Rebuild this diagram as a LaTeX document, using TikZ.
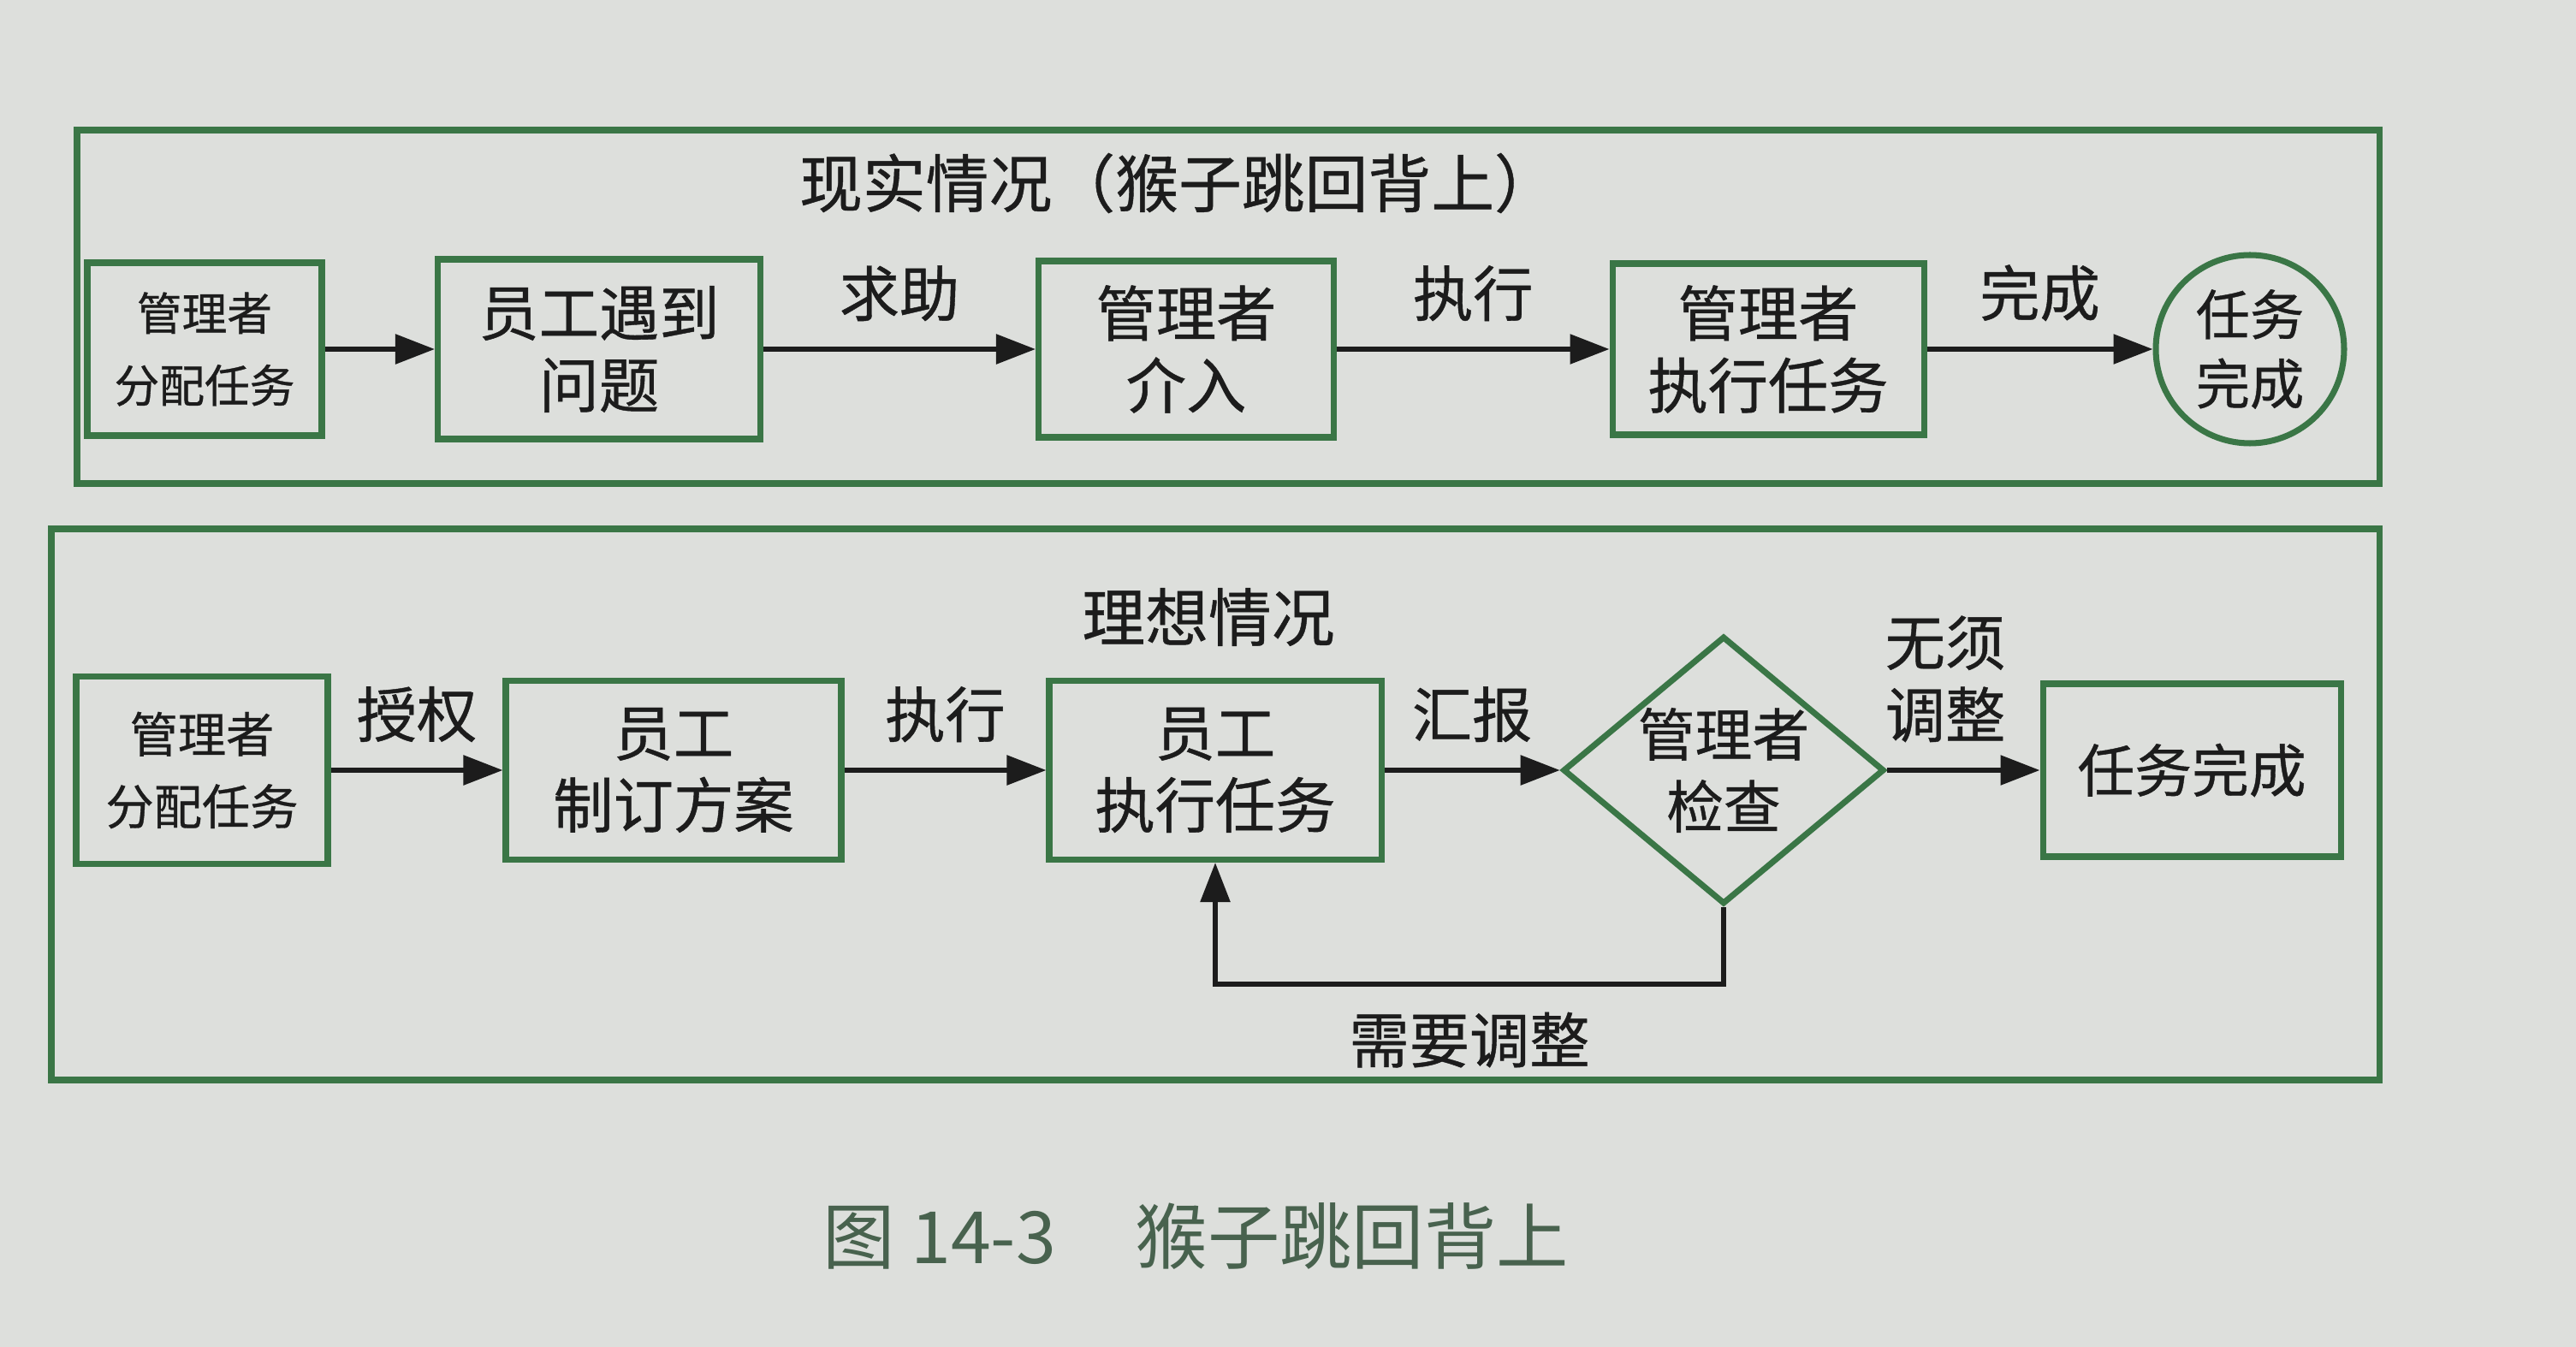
\documentclass[tikz,border=0pt]{standalone}
\usepackage{fontspec}
\setmainfont{Noto Sans CJK SC}[FakeBold=0.6]
\newfontfamily\capfont{Noto Sans CJK SC}
\usetikzlibrary{shapes.geometric,arrows.meta}
\definecolor{paper}{RGB}{221,223,220}
\definecolor{boxgreen}{RGB}{58,118,70}
\definecolor{ink}{RGB}{28,28,28}
\definecolor{capgreen}{RGB}{72,98,78}

\begin{document}
\begin{tikzpicture}[every node/.style={text=ink, align=center, font=\fontsize{20}{24}\selectfont},
        proc/.style={draw=boxgreen, line width=2pt, inner sep=0pt},
        check/.style={draw=boxgreen, line width=2pt, diamond, aspect=1.2, inner sep=0pt},
        lbl/.style={inner sep=0pt},
        flow/.style={draw=ink, line width=1.6pt, -{Triangle[length=4.6mm, width=3.4mm]}},
        frame/.style={draw=boxgreen, line width=2pt}]
        \useasboundingbox (0,0) rectangle (30.10,-15.74);
        \fill[paper] (0,0) rectangle (30.10,-15.74);

        \draw[frame] (0.90,-1.52) rectangle (27.80,-5.65);
        \node[lbl, font=\fontsize{21}{25}\selectfont] (t1) at (13.77,-2.14) {现实情况（猴子跳回背上）};
        \node[proc, minimum width=2.74cm, minimum height=2.02cm, font=\fontsize{15}{24}\selectfont] (a1) at (2.39,-4.08) {管理者\\分配任务};
        \node[proc, minimum width=3.77cm, minimum height=2.10cm] (a2) at (7.00,-4.08) {员工遇到\\问题};
        \node[proc, minimum width=3.45cm, minimum height=2.06cm] (a3) at (13.86,-4.08) {管理者\\介入};
        \node[proc, minimum width=3.64cm, minimum height=2.00cm] (a4) at (20.66,-4.08) {管理者\\执行任务};
        \node[proc, circle, minimum size=2.2cm, font=\fontsize{18}{23}\selectfont] (a5) at (26.29,-4.08) {任务\\完成};

        \draw[flow] (a1) -- (a2);
        \draw[flow] (a2) -- node[lbl, above=3mm] (l1) {求助} (a3);
        \draw[flow] (a3) -- node[lbl, above=3mm] (l2) {执行} (a4);
        \draw[flow] (a4) -- node[lbl, above=3mm] (l3) {完成} (a5);

        \draw[frame] (0.60,-6.18) rectangle (27.80,-12.62);
        \node[lbl, font=\fontsize{21}{25}\selectfont] (t2) at (14.12,-7.21) {理想情况};
        \node[proc, minimum width=2.94cm, minimum height=2.19cm, font=\fontsize{16}{24}\selectfont] (b1) at (2.36,-9.00) {管理者\\分配任务};
        \node[proc, minimum width=3.92cm, minimum height=2.09cm] (b2) at (7.87,-9.00) {员工\\制订方案};
        \node[proc, minimum width=3.88cm, minimum height=2.09cm] (b3) at (14.20,-9.00) {员工\\执行任务};
        \node[check, font=\fontsize{19}{24}\selectfont] (b4) at (20.14,-9.00) {管理者\\检查};
        \node[proc, minimum width=3.48cm, minimum height=2.02cm, font=\fontsize{19}{24}\selectfont] (b5) at (25.61,-9.00) {任务完成};
        \coordinate (turn) at (20.14,-11.50);

        \draw[flow] (b1) -- node[lbl, above=3mm] (l4) {授权} (b2);
        \draw[flow] (b2) -- node[lbl, above=3mm] (l5) {执行} (b3);
        \draw[flow] (b3) -- node[lbl, above=3mm] (l6) {汇报} (b4);
        \draw[flow] (b4) -- node[lbl, above=3mm, pos=0.38] (l7) {无须\\调整} (b5);
        \draw[flow] (b4.south) -- (turn) -| node[lbl, below=3mm, pos=0.25] (l8) {需要调整} (b3.south);

        \node[lbl, text=capgreen, font=\capfont\fontsize{24}{28}\selectfont] (cap) at (13.97,-14.45) {图 14-3\hspace{1.1em}猴子跳回背上};
    \end{tikzpicture}
\end{document}
